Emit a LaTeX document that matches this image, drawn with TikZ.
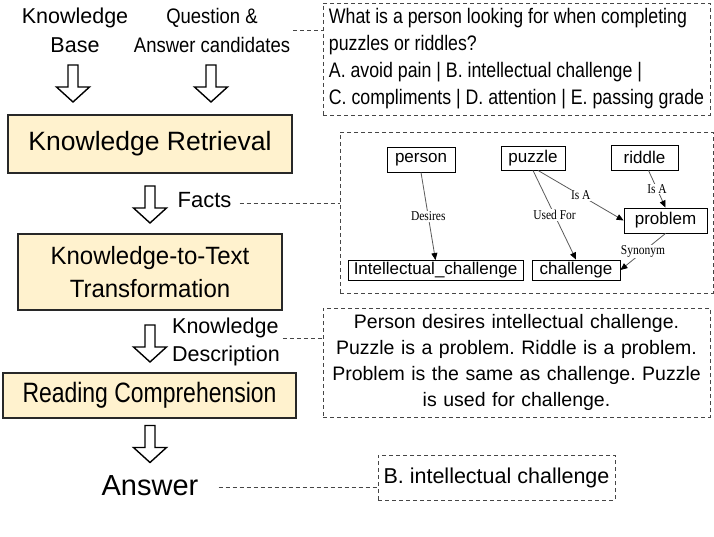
\documentclass[tikz,border=0pt]{standalone}
\usepackage{graphicx}
\usepackage{fontspec}
\setmainfont{Liberation Sans}
\newfontfamily\condA{Liberation Sans}[FakeStretch=0.82]
\newfontfamily\condB{Liberation Sans}[FakeStretch=0.88]
\newfontfamily\condC{Liberation Sans}[FakeStretch=0.96]
\newfontfamily\serifc{Liberation Serif}[FakeStretch=0.85]
\newcommand{\qline}[1]{\scalebox{0.845}[1]{#1}}
\usetikzlibrary{arrows.meta}
\definecolor{boxfill}{RGB}{255,242,206}
\definecolor{boxline}{RGB}{40,40,40}
\definecolor{dashgray}{RGB}{70,70,70}
\definecolor{edgegray}{RGB}{90,90,90}
\begin{document}
\frenchspacing
\begin{tikzpicture}[x=1pt,y=-1pt,
  mainbox/.style={draw=boxline, line width=1.2pt, fill=boxfill, inner sep=0pt, align=center},
  dbox/.style={draw=dashgray, dash pattern=on 4pt off 3pt, line width=0.9pt, inner sep=0pt},
  dconn/.style={draw=dashgray, dash pattern=on 4pt off 3pt, line width=0.9pt},
  gnode/.style={draw=black, line width=0.9pt, inner sep=0pt, font=\fontsize{17}{18}\selectfont},
  gedge/.style={draw=edgegray, line width=0.8pt, -{Triangle[length=7pt,width=6pt,color=black]}},
  elbl/.style={fill=white, inner sep=0.8pt, font=\serifc\fontsize{13.5}{14}\selectfont},
  plain/.style={inner sep=0pt},
  hollowarrow/.pic={\draw[line width=1.4pt, line join=miter, fill=white] (-5,0) -- (5,0) -- (5,22) -- (16.5,22) -- (0,37) -- (-16.5,22) -- (-5,22) -- cycle;}
]
\useasboundingbox (0,0) rectangle (714,537);

% left column
\node[plain, align=center, font=\fontsize{21.5}{29}\selectfont] (kb) at (75,30) {Knowledge\\Base};
\node[plain, align=center, font=\condB\fontsize{21}{29}\selectfont] (qa) at (212,30) {Question \&\\Answer candidates};
\pic at (73,65) {hollowarrow};
\pic at (211,65) {hollowarrow};
\node[mainbox, minimum width=284pt, minimum height=58pt, font=\fontsize{26.5}{30}\selectfont] (kr) at (150,144) {Knowledge Retrieval};
\pic at (150,186) {hollowarrow};
\node[plain, font=\fontsize{22}{24}\selectfont] (facts) at (204.5,200.5) {Facts};
\node[mainbox, minimum width=264pt, minimum height=76pt, font=\condC\fontsize{25}{33}\selectfont] (k2t) at (150,272) {Knowledge-to-Text\\Transformation};
\pic at (150,325) {hollowarrow};
\node[plain, align=left, anchor=west, font=\fontsize{21.5}{28}\selectfont] (kd) at (172,342.4) {Knowledge\\Description};
\node[mainbox, minimum width=293pt, minimum height=45pt, font=\condA\fontsize{28}{30}\selectfont] (rc) at (149.5,395.5) {Reading Comprehension};
\pic at (150,425.5) {hollowarrow};
\node[plain, font=\fontsize{29}{32}\selectfont] (ans) at (150,486) {Answer};

% right column
\node[dbox, minimum width=387pt, minimum height=112pt, align=left, font=\fontsize{21}{27}\selectfont] (qbox) at (516.5,59)
  {\qline{What is a person looking for when completing}\\\qline{puzzles or riddles?}\\\qline{A. avoid pain | B. intellectual challenge |}\\\qline{C. compliments | D. attention | E. passing grade}};
\node[dbox, minimum width=373pt, minimum height=161pt] (gbox) at (526.5,212.5) {};
\node[dbox, minimum width=387pt, minimum height=109pt, text width=385pt, align=center, font=\fontsize{19.5}{26.3}\selectfont] (desc) at (516.5,362.5)
  {Person desires intellectual challenge.\\Puzzle is a problem. Riddle is a problem.\\Problem is the same as challenge. Puzzle\\is used for challenge.};
\node[dbox, minimum width=237pt, minimum height=45pt, font=\fontsize{21.5}{24}\selectfont] (abox) at (496.5,477.5) {B. intellectual challenge};

% graph
\node[gnode, minimum width=68pt, minimum height=25pt] (person) at (421,159.5) {person};
\node[gnode, minimum width=64pt, minimum height=24pt] (puzzle) at (533,158) {puzzle};
\node[gnode, minimum width=67pt, minimum height=25pt] (riddle) at (644.5,157.5) {riddle};
\node[gnode, minimum width=83pt, minimum height=25pt] (problem) at (665.5,220.5) {problem};
\node[gnode, minimum width=175pt, minimum height=20pt] (ic) at (435.5,270.5) {Intellectual\_challenge};
\node[gnode, minimum width=88pt, minimum height=20pt] (chal) at (576,270) {challenge};

\draw[gedge] (person.south) -- node[elbl] {Desires} (ic.north);
\draw[gedge] (puzzle.south) -- node[elbl] {Used For} (chal.north);
\draw[gedge] ([xshift=5pt]puzzle.south) -- node[elbl] {Is A} (problem.west);
\draw[gedge] ([xshift=4pt]riddle.south) -- node[elbl] {Is A} (problem.north);
\draw[gedge] (problem.south) -- node[elbl] {Synonym} (chal.east);

% dashed connectors
\draw[dconn] ([xshift=3pt]qa.east) coordinate (q1) -- (q1 -| qbox.west);
\draw[dconn] ([xshift=8pt,yshift=-2.5pt]facts.east) coordinate (f1) -- (f1 -| gbox.west);
\draw[dconn] ([xshift=3pt,yshift=4.4pt]kd.east) coordinate (k1) -- (k1 -| desc.west);
\draw[dconn] ([xshift=20pt,yshift=-1pt]ans.east) coordinate (a1) -- (a1 -| abox.west);
\end{tikzpicture}
\end{document}
